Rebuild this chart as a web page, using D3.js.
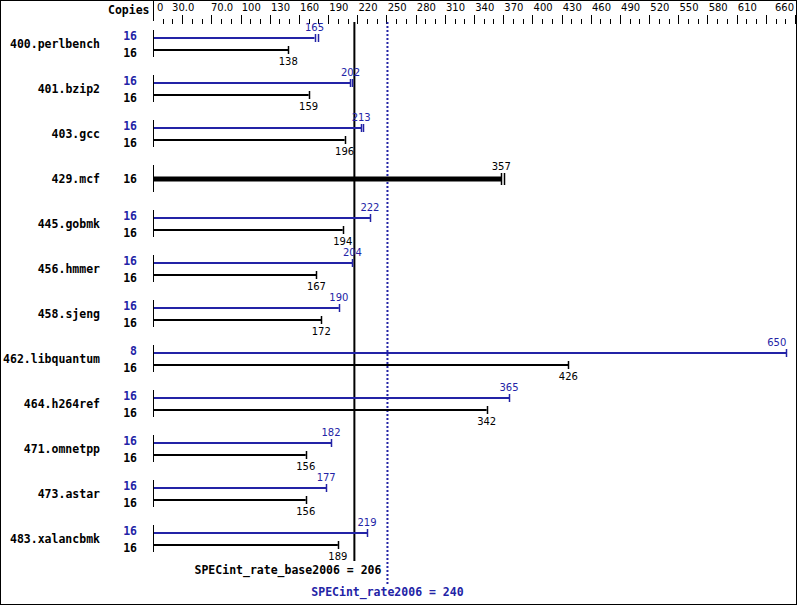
<!DOCTYPE html>
<html><head><meta charset="utf-8">
<script src="https://cdn.jsdelivr.net/npm/d3@7"></script>
<style>body{margin:0;background:#fff}svg{display:block}</style>
</head><body>
<script>
const benchmarks = ["400.perlbench","401.bzip2","403.gcc","429.mcf","445.gobmk","456.hmmer","458.sjeng","462.libquantum","464.h264ref","471.omnetpp","473.astar","483.xalancbmk"];
const peakValues = [165,202,213,null,222,204,190,650,365,182,177,219];
const peakMax    = [169,204,215,null,null,null,null,null,null,null,null,null];
const peakCopies = [16,16,16,null,16,16,16,8,16,16,16,16];
const baseValues = [138,159,196,357,194,167,172,426,342,156,156,189];
const baseMax    = [null,null,null,360,null,null,null,null,null,null,null,null];
const baseCopies = [16,16,16,16,16,16,16,16,16,16,16,16];
const tickLabelValues = [0,30,70,100,130,160,190,220,250,280,310,340,370,400,430,460,490,520,550,580,610,660];
const tickLabelTexts = ["0","30.0","70.0","100","130","160","190","220","250","280","310","340","370","400","430","460","490","520","550","580","610","660"];
const baseMean = 206, peakMean = 240;
const baseMeanLabel = "SPECint_rate_base2006 = 206";
const peakMeanLabel = "SPECint_rate2006 = 240";

const W = 799, H = 606;
const BLUE = "#2323a6";
const mono = "'DejaVu Sans Mono', monospace";
const sans = "'DejaVu Sans', sans-serif";

const svg = d3.select("body").append("svg").attr("width", W).attr("height", H);
svg.append("rect").attr("x",0.5).attr("y",0.5).attr("width",796).attr("height",604)
  .attr("fill","#fff").attr("stroke","#000").attr("stroke-width",1);

const x = d3.scaleLinear().domain([0,660]).range([154,796]);
const y = d3.scaleBand().domain(benchmarks).range([21,561]);
const cy = b => y(b) + y.bandwidth()/2;

// header
svg.append("text").attr("x",108).attr("y",14).attr("font-family",mono).attr("font-weight","bold")
  .attr("font-size","11.5px").text("Copies");
svg.append("line").attr("x1",153.5).attr("x2",153.5).attr("y1",0).attr("y2",21).attr("stroke","#000");

// ticks
const minor = d3.range(10,661,10);
svg.append("g").selectAll("line").data(minor).join("line")
  .attr("x1",d=>Math.round(x(d))-0.5).attr("x2",d=>Math.round(x(d))-0.5)
  .attr("y1",d=> d%30===0 || d===660 ? 15 : 19).attr("y2",24)
  .attr("stroke","#000").attr("stroke-width",1);
svg.append("g").selectAll("text").data(tickLabelValues).join("text")
  .attr("x",(d,i)=> i===0 ? x(d)+3 : (i===tickLabelValues.length-1 ? x(d)-2 : x(d)))
  .attr("y",11)
  .attr("text-anchor",(d,i)=> i===0 ? "start" : (i===tickLabelValues.length-1 ? "end" : "middle"))
  .attr("font-family",sans).attr("font-size","10px").text((d,i)=>tickLabelTexts[i]);

// mean lines
svg.append("line").attr("x1",x(baseMean)).attr("x2",x(baseMean)).attr("y1",22).attr("y2",561)
  .attr("stroke","#000").attr("stroke-width",2);
svg.append("line").attr("x1",x(peakMean)).attr("x2",x(peakMean)).attr("y1",22).attr("y2",585)
  .attr("stroke",BLUE).attr("stroke-width",2).attr("stroke-dasharray","2,2");

// rows
const rows = svg.append("g");
benchmarks.forEach((b,i)=>{
  const c = Math.round(cy(b));
  const g = rows.append("g");
  g.append("line").attr("x1",153.5).attr("x2",153.5).attr("y1",c-14).attr("y2",c+13).attr("stroke","#000");
  g.append("text").attr("x",100).attr("y",c+3.5).attr("text-anchor","end")
    .attr("font-family",mono).attr("font-weight","bold").attr("font-size","11.5px").text(b);
  const single = peakValues[i]===null;
  const endTick = (v, yy, col, h) => g.append("line").attr("x1",Math.round(x(v))+0.5).attr("x2",Math.round(x(v))+0.5)
      .attr("y1",yy-h).attr("y2",yy+h).attr("stroke",col).attr("stroke-width",1.5);
  if (single) {
    const yb = c;
    g.append("line").attr("x1",154).attr("x2",x(baseValues[i])).attr("y1",yb).attr("y2",yb)
      .attr("stroke","#000").attr("stroke-width",5);
    endTick(baseValues[i], yb, "#000", 6);
    if (baseMax[i]!==null) endTick(baseMax[i], yb, "#000", 6);
    g.append("text").attr("x",137).attr("y",c+4).attr("text-anchor","end")
      .attr("font-family",mono).attr("font-weight","bold").attr("font-size","11.5px").text(baseCopies[i]);
    g.append("text").attr("x",x(baseValues[i])).attr("y",c-9).attr("text-anchor","middle")
      .attr("font-family",sans).attr("font-size","10px").text(baseValues[i]);
  } else {
    const yp = c-6, yb = c+6;
    g.append("line").attr("x1",154).attr("x2",x(peakValues[i])).attr("y1",yp).attr("y2",yp)
      .attr("stroke",BLUE).attr("stroke-width",2);
    endTick(peakValues[i], yp, BLUE, 4);
    if (peakMax[i]!==null) endTick(peakMax[i], yp, BLUE, 4);
    g.append("line").attr("x1",154).attr("x2",x(baseValues[i])).attr("y1",yb).attr("y2",yb)
      .attr("stroke","#000").attr("stroke-width",2);
    endTick(baseValues[i], yb, "#000", 4);
    g.append("text").attr("x",137).attr("y",yp+2).attr("text-anchor","end").attr("fill",BLUE)
      .attr("font-family",mono).attr("font-weight","bold").attr("font-size","11.5px").text(peakCopies[i]);
    g.append("text").attr("x",137).attr("y",yb+7).attr("text-anchor","end")
      .attr("font-family",mono).attr("font-weight","bold").attr("font-size","11.5px").text(baseCopies[i]);
    const px = Math.min(x(peakValues[i]), 790);
    g.append("text").attr("x",px).attr("y",yp-7)
      .attr("text-anchor", x(peakValues[i])>775 ? "end" : "middle").attr("fill",BLUE)
      .attr("font-family",sans).attr("font-size","10px").text(peakValues[i]);
    g.append("text").attr("x",x(baseValues[i])).attr("y",yb+15).attr("text-anchor","middle")
      .attr("font-family",sans).attr("font-size","10px").text(baseValues[i]);
  }
});

// mean labels
svg.append("text").attr("x",x(peakMean)-6).attr("y",574).attr("text-anchor","end")
  .attr("font-family",mono).attr("font-weight","bold").attr("font-size","11.5px").text(baseMeanLabel);
svg.append("text").attr("x",x(peakMean)).attr("y",596).attr("text-anchor","middle").attr("fill",BLUE)
  .attr("font-family",mono).attr("font-weight","bold").attr("font-size","11.5px").text(peakMeanLabel);
</script>
</body></html>
